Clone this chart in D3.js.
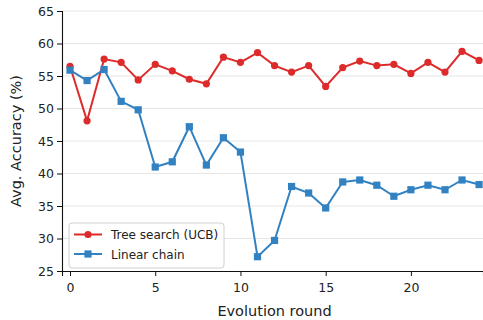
<!DOCTYPE html>
<html>
<head>
<meta charset="utf-8">
<script src="https://cdn.jsdelivr.net/npm/d3@7"></script>
<style>
  body { margin: 0; background: #fff; }
  text { font-family: "DejaVu Sans", sans-serif; }
</style>
</head>
<body>
<svg id="mainsvg" width="483" height="320"></svg>
<script>
const rounds = d3.range(0, 25);
const treeSearch = [56.5, 48.1, 57.6, 57.1, 54.4, 56.8, 55.8, 54.5, 53.8, 57.9, 57.1, 58.6, 56.6,
                    55.6, 56.6, 53.4, 56.3, 57.3, 56.6, 56.8, 55.4, 57.1, 55.6, 58.8, 57.4];
const linearChain = [55.9, 54.3, 56.0, 51.1, 49.8, 41.0, 41.8, 47.2, 41.3, 45.5, 43.3, 27.2, 29.7,
                     38.0, 37.0, 34.7, 38.7, 39.0, 38.2, 36.5, 37.5, 38.2, 37.5, 39.0, 38.3];
const seriesNames = ['Tree search (UCB)', 'Linear chain'];
const yTicks = [25, 30, 35, 40, 45, 50, 55, 60, 65];
const xTicks = [0, 5, 10, 15, 20];

const svg = d3.select('#mainsvg');
const margin = {top: 11, right: 0, bottom: 49, left: 62};
const width = +svg.attr('width');
const height = +svg.attr('height');
const innerWidth = width - margin.left - margin.right;
const innerHeight = height - margin.top - margin.bottom;
const colors = ['#dd2b2b', '#3282c2'];

const g = svg.append('g').attr('transform', `translate(${margin.left}, ${margin.top})`);

const xScale = d3.scaleLinear().domain([-0.47, 24.23]).range([0, innerWidth]);
const yScale = d3.scaleLinear().domain([25, 65]).range([innerHeight, 0]);

// grid
g.selectAll('.grid').data(yTicks.slice(1)).join('line')
  .attr('x1', 0).attr('x2', innerWidth)
  .attr('y1', d => yScale(d)).attr('y2', d => yScale(d))
  .attr('stroke', '#e6e6e6').attr('stroke-width', 1);

// axes
const xAxis = g.append('g').attr('transform', `translate(0, ${innerHeight})`)
  .call(d3.axisBottom(xScale).tickValues(xTicks).tickSize(5).tickPadding(7));
const yAxis = g.append('g')
  .call(d3.axisLeft(yScale).tickValues(yTicks).tickSize(5).tickPadding(3));
[xAxis, yAxis].forEach(a => {
  a.selectAll('text').style('font-size', '12.5px').attr('fill', '#222');
  a.select('.domain').attr('stroke', '#111').attr('stroke-width', 1.1);
  a.selectAll('.tick line').attr('stroke', '#111');
});

const line = d3.line().x((d, i) => xScale(rounds[i])).y(d => yScale(d));

// lines
g.append('path').datum(treeSearch).attr('d', line)
  .attr('fill', 'none').attr('stroke', colors[0]).attr('stroke-width', 2);
g.append('path').datum(linearChain).attr('d', line)
  .attr('fill', 'none').attr('stroke', colors[1]).attr('stroke-width', 2);

g.selectAll('.dotR').data(treeSearch).join('circle')
  .attr('cx', (d, i) => xScale(rounds[i])).attr('cy', d => yScale(d))
  .attr('r', 3.6).attr('fill', colors[0]);
g.selectAll('.dotB').data(linearChain).join('rect')
  .attr('x', (d, i) => xScale(rounds[i]) - 3.6).attr('y', d => yScale(d) - 3.6)
  .attr('width', 7.2).attr('height', 7.2).attr('fill', colors[1]);

// labels
svg.append('text')
  .attr('x', margin.left + xScale(12)).attr('y', 316)
  .style('text-anchor', 'middle').style('font-size', '14.5px').attr('fill', '#222')
  .text('Evolution round');
svg.append('text')
  .attr('transform', 'rotate(-90)')
  .attr('x', -(margin.top + innerHeight / 2)).attr('y', 21)
  .style('text-anchor', 'middle').style('font-size', '14.5px').attr('fill', '#222')
  .text('Avg. Accuracy (%)');

// legend
const legend = g.append('g').attr('transform', 'translate(7, 212)');
legend.append('rect').attr('width', 155).attr('height', 45).attr('rx', 3)
  .attr('fill', 'white').attr('fill-opacity', 0.85).attr('stroke', '#d0d0d0');
seriesNames.forEach((name, i) => {
  const yy = 11.5 + i * 19.5;
  legend.append('line').attr('x1', 5).attr('x2', 33).attr('y1', yy).attr('y2', yy)
    .attr('stroke', colors[i]).attr('stroke-width', 2);
  if (i === 0) {
    legend.append('circle').attr('cx', 19).attr('cy', yy).attr('r', 3.6).attr('fill', colors[i]);
  } else {
    legend.append('rect').attr('x', 15.4).attr('y', yy - 3.6).attr('width', 7.2).attr('height', 7.2).attr('fill', colors[i]);
  }
  legend.append('text').attr('x', 42).attr('y', yy + 4.5)
    .style('font-size', '12px').attr('fill', '#222').text(name);
});
</script>
</body>
</html>
